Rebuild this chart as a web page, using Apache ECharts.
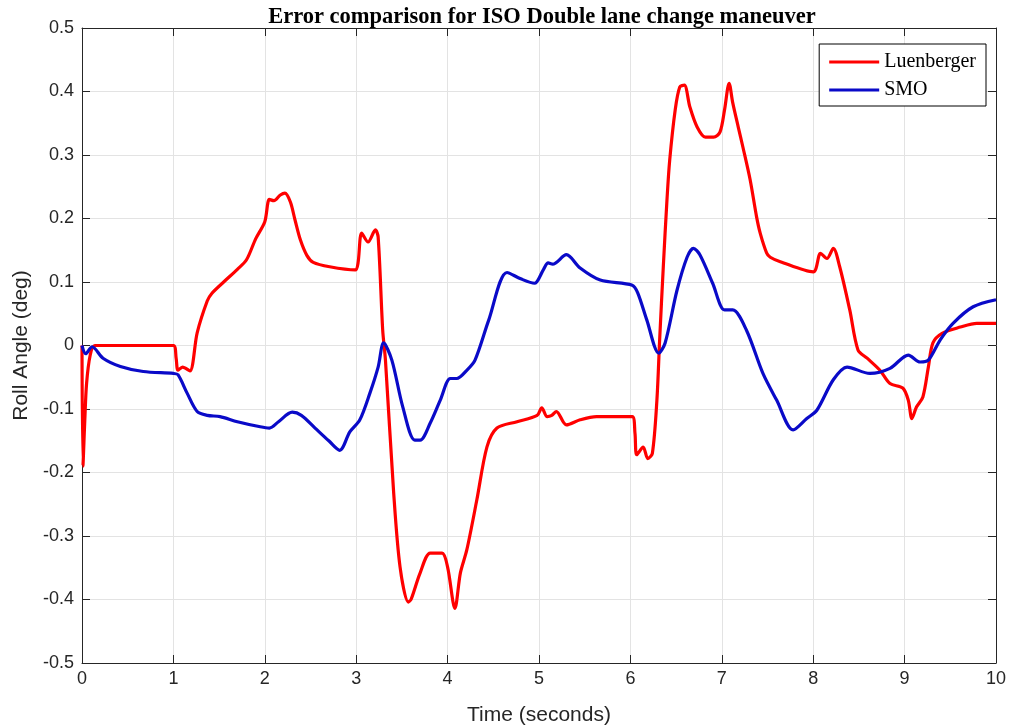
<!DOCTYPE html>
<html>
<head>
<meta charset="utf-8">
<script src="https://cdn.jsdelivr.net/npm/echarts@6/dist/echarts.min.js"></script>
<style>
  html, body { margin: 0; padding: 0; background: #fff; }
  #main { width: 1011px; height: 726px; }
</style>
</head>
<body>
<div id="main"></div>
<script>
// Luenberger observer error (time in s, roll angle in deg)
var lueT = [0, 0.01, 0.03, 0.05, 0.09, 0.14, 0.5, 1.0, 1.03, 1.05, 1.1, 1.18, 1.26, 1.37, 1.42, 1.55, 1.7, 1.8, 1.9, 2.0, 2.05, 2.1, 2.17, 2.22, 2.28, 2.33, 2.39, 2.46, 2.53, 2.71, 2.99, 3.02, 3.06, 3.13, 3.21, 3.24, 3.29, 3.32, 3.41, 3.48, 3.57, 3.6, 3.7, 3.81, 3.94, 4.0, 4.08, 4.14, 4.21, 4.32, 4.43, 4.54, 4.76, 4.98, 5.03, 5.09, 5.14, 5.19, 5.3, 5.45, 5.63, 6.02, 6.05, 6.07, 6.14, 6.19, 6.24, 6.29, 6.32, 6.36, 6.4, 6.43, 6.49, 6.54, 6.59, 6.65, 6.73, 6.82, 6.91, 6.98, 7.03, 7.08, 7.12, 7.18, 7.23, 7.31, 7.38, 7.42, 7.49, 7.53, 7.64, 8.0, 8.08, 8.15, 8.22, 8.29, 8.4, 8.49, 8.59, 8.73, 8.84, 8.98, 9.04, 9.08, 9.13, 9.2, 9.26, 9.31, 9.41, 9.61, 9.79, 10.0];
var lueY = [0, -0.19, -0.12, -0.06, -0.015, 0, 0, 0, -0.02, -0.039, -0.034, -0.04, 0.02, 0.07, 0.082, 0.1, 0.12, 0.135, 0.168, 0.195, 0.23, 0.228, 0.237, 0.24, 0.226, 0.198, 0.166, 0.142, 0.131, 0.124, 0.119, 0.13, 0.177, 0.163, 0.182, 0.171, 0.024, -0.023, -0.232, -0.349, -0.404, -0.4, -0.358, -0.327, -0.327, -0.349, -0.414, -0.358, -0.322, -0.243, -0.16, -0.13, -0.12, -0.11, -0.098, -0.112, -0.11, -0.104, -0.125, -0.117, -0.112, -0.112, -0.138, -0.172, -0.16, -0.178, -0.17, -0.086, 0.009, 0.124, 0.229, 0.292, 0.371, 0.407, 0.41, 0.376, 0.344, 0.328, 0.328, 0.336, 0.371, 0.413, 0.382, 0.344, 0.313, 0.261, 0.203, 0.177, 0.146, 0.139, 0.132, 0.116, 0.145, 0.137, 0.153, 0.124, 0.056, -0.007, -0.02, -0.039, -0.06, -0.067, -0.086, -0.115, -0.097, -0.081, -0.034, 0.004, 0.019, 0.029, 0.035, 0.035];

// Sliding mode observer error
var smoT = [0, 0.04, 0.11, 0.23, 0.42, 0.67, 1.0, 1.05, 1.15, 1.26, 1.37, 1.51, 1.7, 1.95, 2.05, 2.15, 2.3, 2.4, 2.55, 2.7, 2.82, 2.93, 3.04, 3.15, 3.24, 3.3, 3.39, 3.51, 3.64, 3.7, 3.81, 3.92, 4.03, 4.1, 4.21, 4.3, 4.45, 4.65, 4.8, 4.95, 5.05, 5.1, 5.15, 5.3, 5.45, 5.67, 6.02, 6.08, 6.18, 6.31, 6.38, 6.51, 6.62, 6.69, 6.76, 6.9, 7.03, 7.12, 7.27, 7.45, 7.6, 7.78, 7.93, 8.04, 8.22, 8.37, 8.62, 8.84, 9.04, 9.17, 9.26, 9.39, 9.53, 9.75, 10.0];
var smoY = [0, -0.013, -0.002, -0.02, -0.033, -0.041, -0.044, -0.046, -0.075, -0.104, -0.11, -0.112, -0.12, -0.128, -0.13, -0.12, -0.105, -0.11, -0.13, -0.15, -0.165, -0.136, -0.117, -0.075, -0.034, 0.004, -0.023, -0.097, -0.149, -0.149, -0.122, -0.086, -0.052, -0.052, -0.039, -0.023, 0.04, 0.115, 0.105, 0.098, 0.12, 0.13, 0.128, 0.143, 0.122, 0.103, 0.095, 0.083, 0.04, -0.012, 0.004, 0.087, 0.139, 0.153, 0.143, 0.098, 0.056, 0.056, 0.024, -0.044, -0.086, -0.133, -0.115, -0.102, -0.054, -0.034, -0.044, -0.036, -0.015, -0.026, -0.023, 0.009, 0.035, 0.061, 0.072];

function pairs(t, y) {
    return t.map(function (v, i) { return [v, y[i]]; });
}

var axisColor = '#262626';
var tickFont = { color: '#262626', fontSize: 18, fontFamily: 'Liberation Sans' };

var myChart = echarts.init(document.getElementById('main'));
var option = {
    animation: false,
    backgroundColor: '#fff',
    title: {
        text: 'Error comparison for ISO Double lane change maneuver',
        left: 537,
        textAlign: 'center',
        top: 1,
        textStyle: { fontFamily: 'Liberation Serif', fontWeight: 'bold', fontSize: 22.5, color: '#000' }
    },
    legend: {
        orient: 'vertical',
        right: 25,
        top: 44,
        itemWidth: 50,
        itemHeight: 3,
        itemGap: 8,
        padding: [8, 10, 6, 10],
        borderColor: '#000',
        borderWidth: 1,
        borderRadius: 0,
        backgroundColor: '#fff',
        icon: 'rect',
        textStyle: { fontFamily: 'Liberation Serif', fontSize: 20, color: '#000' },
        data: ['Luenberger', 'SMO']
    },
    grid: { left: 82, right: 15, top: 28, bottom: 63, containLabel: false, outerBoundsMode: 'none' },
    xAxis: [{
        type: 'value',
        min: 0, max: 10, interval: 1,
        name: 'Time (seconds)',
        nameLocation: 'middle',
        nameGap: 42,
        nameTextStyle: { fontFamily: 'Liberation Sans', fontSize: 21, color: '#262626' },
        axisLine: { onZero: false, lineStyle: { color: axisColor, width: 1 } },
        axisTick: { inside: true, length: 8, lineStyle: { color: axisColor } },
        axisLabel: Object.assign({ margin: 7 }, tickFont),
        splitLine: { show: true, lineStyle: { color: '#e3e3e3', width: 1 } }
    }, {
        type: 'value', position: 'top',
        min: 0, max: 10, interval: 1,
        axisLine: { show: true, onZero: false, lineStyle: { color: axisColor, width: 1 } },
        axisTick: { inside: true, length: 8, lineStyle: { color: axisColor } },
        axisLabel: { show: false },
        splitLine: { show: false }
    }],
    yAxis: [{
        type: 'value',
        min: -0.5, max: 0.5, interval: 0.1,
        name: 'Roll Angle (deg)',
        nameLocation: 'middle',
        nameGap: 49,
        nameTextStyle: { fontFamily: 'Liberation Sans', fontSize: 21, color: '#262626' },
        axisLine: { show: true, onZero: false, lineStyle: { color: axisColor, width: 1 } },
        axisTick: { inside: true, length: 8, lineStyle: { color: axisColor } },
        axisLabel: Object.assign({
            margin: 8,
            formatter: function (v) { return String(Math.round(v * 10) / 10); }
        }, tickFont),
        splitLine: { show: true, lineStyle: { color: '#e3e3e3', width: 1 } }
    }, {
        type: 'value', position: 'right',
        min: -0.5, max: 0.5, interval: 0.1,
        axisLine: { show: true, onZero: false, lineStyle: { color: axisColor, width: 1 } },
        axisTick: { inside: true, length: 8, lineStyle: { color: axisColor } },
        axisLabel: { show: false },
        splitLine: { show: false }
    }],
    series: [{
        name: 'Luenberger',
        type: 'line',
        showSymbol: false,
        symbol: 'none',
        smooth: 0.3,
        color: '#ff0000',
        lineStyle: { width: 3.2, color: '#ff0000' },
        data: pairs(lueT, lueY)
    }, {
        name: 'SMO',
        type: 'line',
        showSymbol: false,
        symbol: 'none',
        smooth: 0.3,
        color: '#0a0ac8',
        lineStyle: { width: 3.2, color: '#0a0ac8' },
        data: pairs(smoT, smoY)
    }]
};
myChart.setOption(option);
</script>
</body>
</html>
